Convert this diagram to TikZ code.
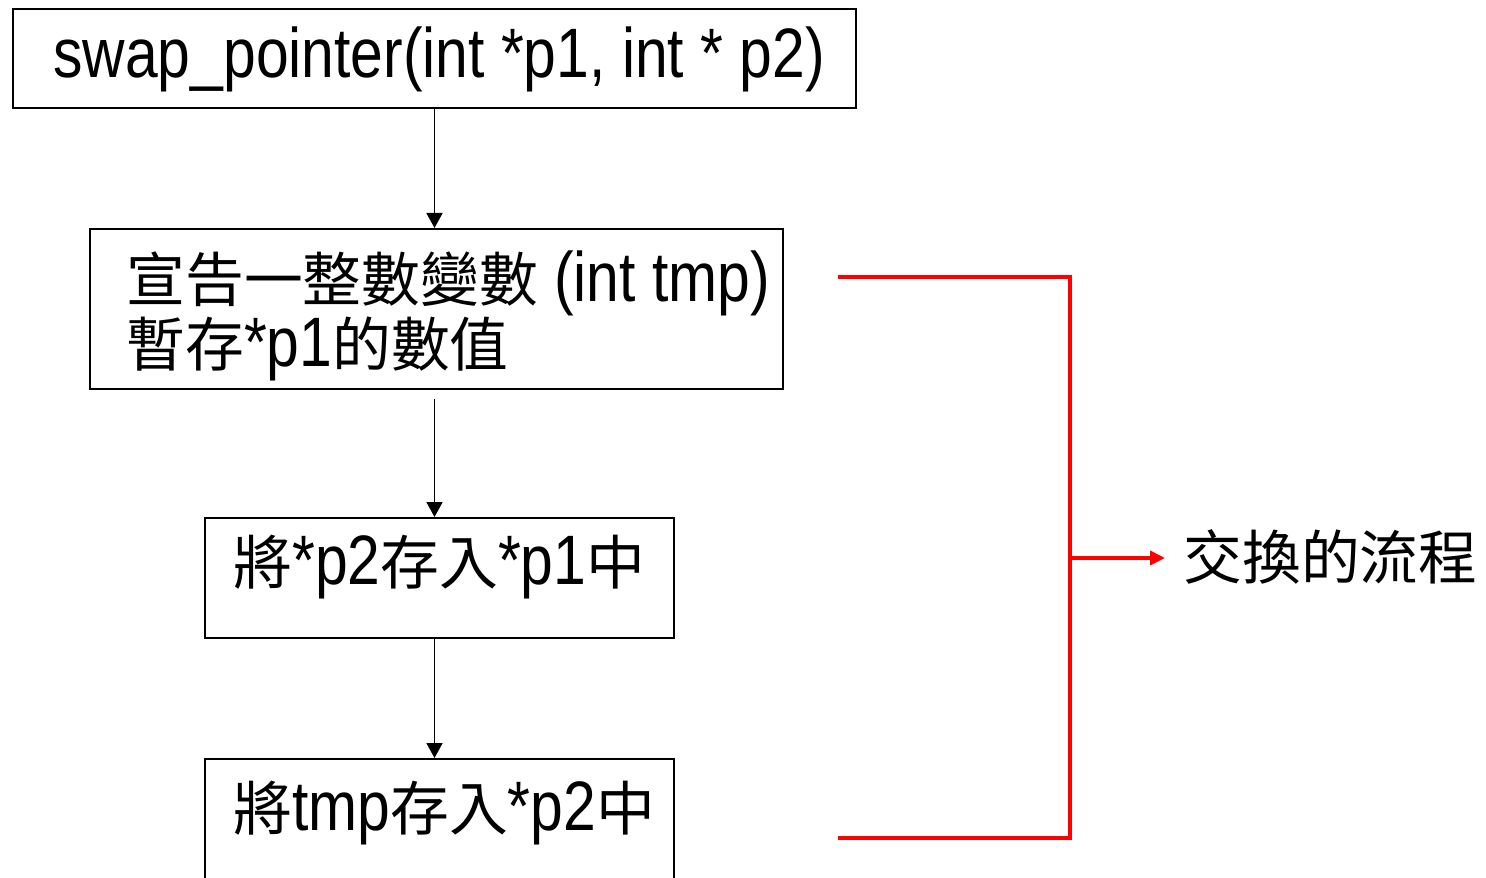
\documentclass[tikz,border=0pt]{standalone}
\usepackage{fontspec}
\setmainfont{Liberation Sans}[FakeStretch=0.84]
\newfontfamily\cjk{Noto Sans CJK TC}[Scale=0.84]
\usetikzlibrary{arrows.meta}
\tikzset{
  box/.style={draw, line width=1pt, inner sep=0pt},
  txt/.style={inner sep=0pt, anchor=base west, font=\fontsize{35}{40}\selectfont},
  flow/.style={line width=0.9pt, -{Triangle[length=7.5pt,width=8pt]}},
  redline/.style={red, line width=2pt},
  redarrow/.style={red, line width=2pt, -{Triangle[length=7.5pt,width=7pt]}}
}
\begin{document}
\begin{tikzpicture}[x=0.5pt, y=-0.5pt]
\clip (0,0) rectangle (1486,877);
\fill[white] (0,0) rectangle (1486,877);
\node[box, minimum width=421.5pt, minimum height=49.5pt](b1) at (434.5, 58.5) {};
\node[box, minimum width=346.5pt, minimum height=80pt](b2) at (436.5, 309) {};
\node[box, minimum width=234.5pt, minimum height=60pt](b3) at (439.5, 578) {};
\node[box, minimum width=234.5pt, minimum height=60pt](b4) at (439.5, 819) {};
\node[txt](t1) at (53, 78) {swap\_pointer(int *p1, int * p2)};
\node[txt](t2) at (126, 301) {{\cjk 宣告一整數變數} (int tmp)};
\node[txt](t3) at (126, 366) {{\cjk 暫存}*p1{\cjk 的數值}};
\node[txt](t4) at (233, 584) {{\cjk 將}*p2{\cjk 存入}*p1{\cjk 中}};
\node[txt](t5) at (233, 830) {{\cjk 將}tmp{\cjk 存入}*p2{\cjk 中}};
\path[flow]
(b1.south) edge (b1.south |- b2.north)
([yshift=-4.5pt]b2.south -| b1.south) edge (b1.south |- b3.north)
(b3.south -| b1.south) edge (b1.south |- b4.north);
% bracket round the three steps
\coordinate(rtop) at (838, 277);
\coordinate(rbot) at (838, 838);
\coordinate(rmid) at (1070, 558);
\node[txt, font=\fontsize{35}{40}\selectfont\cjk](lbl) at (1183, 579) {交換的流程};
\draw[redline] (rtop) -| (rmid) |- (rbot);
\draw[redarrow] (rmid) -- ([xshift=-9pt]rmid -| lbl.west);
\end{tikzpicture}
\end{document}
